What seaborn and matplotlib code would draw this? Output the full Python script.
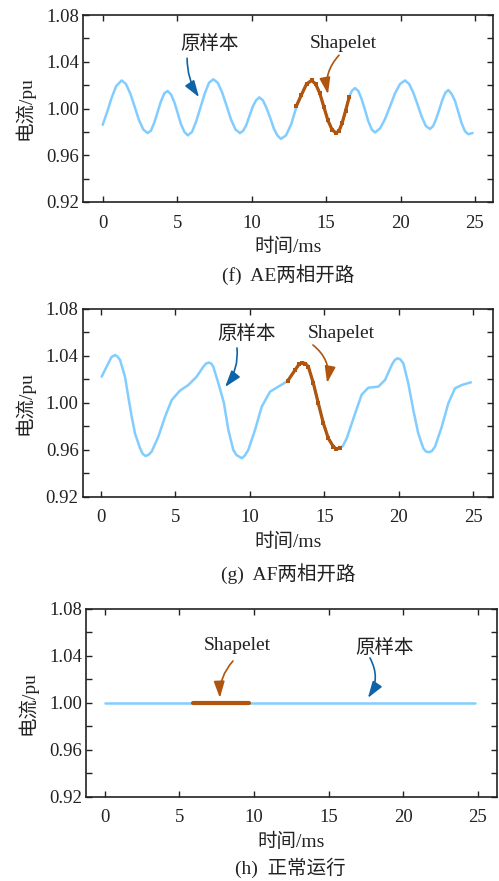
import numpy as np
import pandas as pd
import matplotlib
matplotlib.use("Agg")
import matplotlib.pyplot as plt
from matplotlib.ticker import MultipleLocator, FormatStrFormatter
import seaborn as sns

# ---------------- data ----------------
xticks = [0, 5, 10, 15, 20, 25]
yticks = [0.92, 0.96, 1.00, 1.04, 1.08]

# (f) AE two-phase open circuit
f_time = [0.00, 0.30, 0.60, 0.90, 1.27,
          1.56, 1.85, 2.15, 2.44, 2.73, 3.02,
          3.24, 3.47, 3.69, 3.91, 4.14, 4.36,
          4.59, 4.81, 5.04, 5.26, 5.49, 5.71,
          6.00, 6.28, 6.57, 6.86, 7.14, 7.43,
          7.73, 8.03, 8.33, 8.62, 8.92, 9.22,
          9.44, 9.65, 9.87, 10.09, 10.30, 10.52,
          10.76, 11.00, 11.25, 11.49, 11.73, 11.97,
          12.31, 12.66, 13.00, 13.34, 13.69, 14.03,
          14.30, 14.58, 14.85, 15.12, 15.40, 15.67,
          15.88, 16.09, 16.31, 16.56, 16.73, 16.94,
          17.17, 17.39, 17.62, 17.84, 18.07, 18.29,
          18.63, 18.96, 19.30, 19.63, 19.97, 20.30,
          20.58, 20.86, 21.14, 21.42, 21.70, 21.98,
          22.19, 22.39, 22.60, 22.80, 23.01, 23.21,
          23.43, 23.66, 23.88, 24.10, 24.33, 24.55, 24.84]
f_current = [0.986, 0.997, 1.009, 1.019, 1.024,
             1.021, 1.013, 1.0015, 0.990, 0.982, 0.979,
             0.981, 0.988, 0.997, 1.006, 1.013, 1.015,
             1.012, 1.0055, 0.996, 0.9865, 0.980, 0.977,
             0.980, 0.989, 1.001, 1.013, 1.022, 1.025,
             1.022, 1.0135, 1.002, 0.9905, 0.982, 0.979,
             0.981, 0.986, 0.994, 1.002, 1.007, 1.0095,
             1.007, 1.0005, 0.992, 0.983, 0.977, 0.974,
             0.977, 0.9865, 1.001, 1.0115, 1.021, 1.024,
             1.021, 1.013, 1.0015, 0.990, 0.982, 0.979,
             0.981, 0.988, 0.998, 1.010, 1.015, 1.0175,
             1.015, 1.008, 0.9985, 0.989, 0.982, 0.9795,
             0.983, 0.991, 1.002, 1.013, 1.021, 1.024,
             1.021, 1.0135, 1.0035, 0.993, 0.985, 0.9825,
             0.985, 0.991, 0.999, 1.007, 1.0135, 1.0158,
             1.0125, 1.0065, 0.997, 0.9875, 0.9805, 0.978, 0.979]
f_shp_time = [13.00, 13.34, 13.69, 14.03, 14.30, 14.58, 14.85,
              15.12, 15.40, 15.67, 15.88, 16.09, 16.31, 16.56]
f_shp_current = [1.002, 1.0115, 1.021, 1.024, 1.021, 1.013, 1.0015,
                 0.990, 0.982, 0.979, 0.981, 0.988, 0.998, 1.010]

# (g) AF two-phase open circuit
g_time = [0.04, 0.49, 0.70, 0.94, 1.10, 1.28, 1.61, 1.83, 2.06, 2.28,
          2.62, 2.80, 3.00, 3.20, 3.40, 3.85, 4.30, 4.75, 5.30, 5.86,
          6.42, 6.87, 7.05, 7.25, 7.40, 7.54, 7.88, 8.25, 8.55, 8.88,
          9.10, 9.45, 9.65, 9.89, 10.34, 10.79, 11.35, 11.90, 12.53,
          13.03, 13.30, 13.52, 13.72, 13.92, 14.26, 14.59, 14.93, 15.26,
          15.60, 15.80, 16.05, 16.25, 16.50, 17.05, 17.50, 17.95, 18.62,
          19.07, 19.52, 19.72, 19.92, 20.10, 20.30, 20.63, 20.97, 21.30,
          21.64, 21.82, 22.02, 22.22, 22.43, 22.88, 23.32, 23.77, 24.22, 24.84]
g_current = [1.0223, 1.0337, 1.0390, 1.0408, 1.0395, 1.0365, 1.0223, 1.0053, 0.9882, 0.9740,
             0.9613, 0.9565, 0.9547, 0.9558, 0.9584, 0.9712, 0.9882, 1.0025, 1.0104, 1.0152,
             1.0223, 1.0308, 1.0335, 1.0343, 1.0335, 1.0308, 1.0167, 1.0000, 0.9769, 0.9599,
             0.9555, 0.9528, 0.9550, 0.9599, 0.9769, 0.9967, 1.0095, 1.0138, 1.0186,
             1.0280, 1.0330, 1.0343, 1.0335, 1.0308, 1.0167, 0.9996, 0.9826, 0.9698,
             0.9627, 0.9608, 0.9613, 0.9635, 0.9698, 0.9905, 1.0070, 1.0129, 1.0138,
             1.0195, 1.0323, 1.0365, 1.0380, 1.0370, 1.0337, 1.0167, 0.9939, 0.9740,
             0.9613, 0.9585, 0.9579, 0.9590, 0.9627, 0.9797, 0.9996, 1.0124, 1.0152, 1.0175]
g_shp_time = [12.53, 13.03, 13.30, 13.52, 13.72, 13.92, 14.26, 14.59,
              14.93, 15.26, 15.60, 15.80, 16.05]
g_shp_current = [1.0186, 1.0280, 1.0330, 1.0343, 1.0335, 1.0308, 1.0167, 0.9996,
                 0.9826, 0.9698, 0.9627, 0.9608, 0.9613]

# (h) normal operation
h_time = [0.0, 24.8]
h_current = [1.00, 1.00]
h_shp_time = [5.93, 9.64]
h_shp_current = [1.00, 1.00]

titles = ["(f)  AE两相开路", "(g)  AF两相开路", "(h)  正常运行"]
xlabel = "时间/ms"
ylabel = "电流/pu"
lbl_sample = "原样本"
lbl_shp = "Shapelet"

# ---------------- style ----------------
sns.set_style("ticks")
plt.rcParams["font.family"] = ["Liberation Serif", "Noto Sans CJK SC", "DejaVu Sans"]
plt.rcParams["axes.unicode_minus"] = False

BLUE = "#82CDFF"
BROWN = "#B0540E"
DBLUE = "#0F64A8"
SPINE = "#222222"
TXT = "#222222"

W, H = 499, 881
fig = plt.figure(figsize=(W / 100, H / 100), dpi=100)

def ax_rect(left, right, top, bottom):
    return [left / W, 1 - bottom / H, (right - left) / W, (bottom - top) / H]

rects = [ax_rect(83, 493, 15, 202), ax_rect(82.7, 492.7, 309, 496.7), ax_rect(86, 496.7, 609, 796.7)]
xlims = [(-1.32, 26.21), (-1.23, 26.30), (-1.27, 26.28)]

datasets = [
    (f_time, f_current, f_shp_time, f_shp_current),
    (g_time, g_current, g_shp_time, g_shp_current),
    (h_time, h_current, h_shp_time, h_shp_current),
]

# annotations: (text, text_xy, arrow_start, arrow_end, rad, color)
annots = [
    [(lbl_sample, (7.2, 1.0558), (5.67, 1.0430), (6.47, 1.0097), 0.15, DBLUE),
     (lbl_shp, (16.14, 1.0558), (15.87, 1.0456), (15.13, 1.0123), 0.25, BROWN)],
    [(lbl_sample, (9.8, 1.0587), (9.13, 1.0468), (8.33, 1.0135), -0.2, DBLUE),
     (lbl_shp, (16.11, 1.0587), (14.23, 1.0493), (15.18, 1.0170), -0.3, BROWN)],
    [(lbl_shp, (8.86, 1.0485), (8.59, 1.0357), (7.71, 1.0042), 0.2, BROWN),
     (lbl_sample, (18.78, 1.0476), (17.78, 1.0383), (17.64, 1.0042), -0.3, DBLUE)],
]

for i in range(3):
    ax = fig.add_axes(rects[i])
    t, c, st, sc = datasets[i]
    df = pd.DataFrame({"t": t, "c": c})
    sdf = pd.DataFrame({"t": st, "c": sc})
    sns.lineplot(data=df, x="t", y="c", ax=ax, color=BLUE, lw=1.8, sort=False)
    if i < 2:
        sns.lineplot(data=sdf, x="t", y="c", ax=ax, color=BROWN, lw=2.3, sort=False,
                     marker="s", markersize=3.2, markeredgewidth=0)
    else:
        sns.lineplot(data=sdf, x="t", y="c", ax=ax, color=BROWN, lw=3.0, sort=False)

    ax.set_xlim(*xlims[i])
    ax.set_ylim(0.92, 1.08)
    ax.set_xticks(xticks)
    ax.set_yticks(yticks)
    ax.yaxis.set_minor_locator(MultipleLocator(0.02))
    ax.yaxis.set_major_formatter(FormatStrFormatter("%.2f"))
    ax.tick_params(which="both", direction="in", top=True, right=True,
                   length=4.5, width=1.0, color=SPINE, labelsize=13.5, labelcolor=TXT)
    ax.tick_params(axis="x", pad=9)
    ax.tick_params(axis="y", pad=3)
    for sp in ax.spines.values():
        sp.set_color(SPINE)
        sp.set_linewidth(1.2)
    ax.set_xlabel(xlabel, fontsize=14, labelpad=4.5, color=TXT)
    ax.set_ylabel(ylabel, fontsize=14, labelpad=8, color=TXT)

    for (txt, txy, a0, a1, rad, col) in annots[i]:
        fam = ["Liberation Serif", "DejaVu Sans"] if txt == lbl_shp else ["Noto Sans CJK SC", "DejaVu Sans"]
        ax.text(txy[0], txy[1], txt, ha="center", va="center", fontsize=14,
                family=fam, color=TXT)
        ax.annotate("", xy=a1, xytext=a0,
                    arrowprops=dict(arrowstyle="-|>,head_length=1.0,head_width=0.33",
                                    connectionstyle=f"arc3,rad={rad}",
                                    color=col, lw=1.2, mutation_scale=10,
                                    shrinkA=0, shrinkB=0))

title_y = [275, 574, 868]
title_x = [288, 288, 290]
for i in range(3):
    fig.text(title_x[i] / W, 1 - title_y[i] / H, titles[i], ha="center", va="center",
             fontsize=14, color=TXT)

fig.savefig("out.png", dpi=100)
